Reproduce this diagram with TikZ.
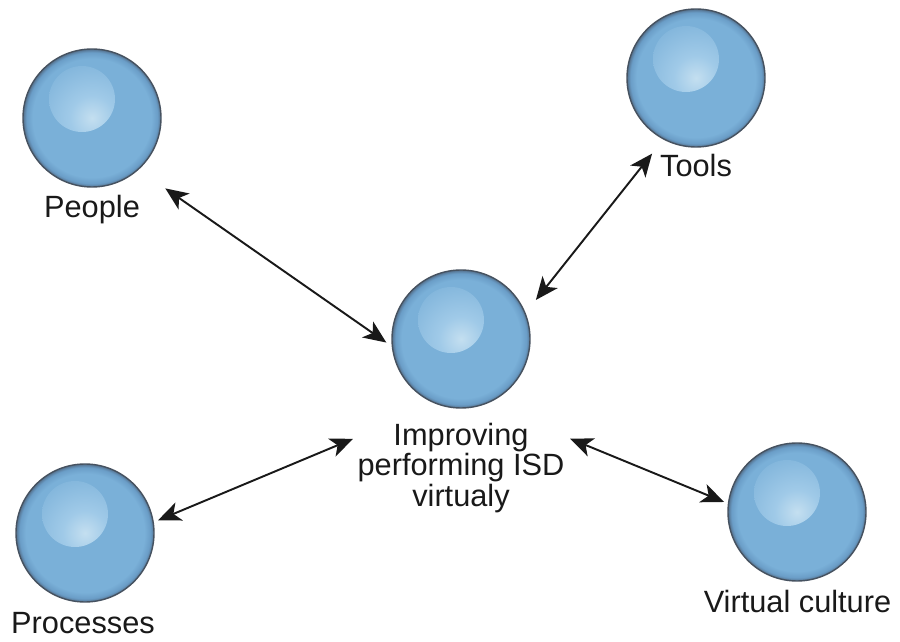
\documentclass[tikz,border=0pt]{standalone}
\usepackage{fontspec}
\setmainfont{Liberation Sans}
\usetikzlibrary{arrows.meta}

\definecolor{sphhi}{RGB}{196,223,240}
\definecolor{sphmid}{RGB}{160,202,232}
\definecolor{sphbody}{RGB}{122,176,216}
\definecolor{sphdark}{RGB}{106,157,199}
\definecolor{sphrim}{RGB}{84,112,140}
\definecolor{sphline}{RGB}{70,82,96}
\definecolor{txt}{RGB}{25,25,25}

\pgfdeclareradialshading{sphere}{\pgfpoint{0bp}{0bp}}{color(0bp)=(sphbody); color(21.5bp)=(sphbody); color(23.8bp)=(sphdark); color(25bp)=(sphrim); color(50bp)=(sphrim)}
\pgfdeclareradialshading{glare}{\pgfpoint{0bp}{0bp}}{color(0bp)=(sphhi); color(8bp)=(sphmid); color(24bp)=(sphbody); color(50bp)=(sphbody)}

\begin{document}
\begin{tikzpicture}[>={Stealth[length=13pt,width=11pt,inset=3.5pt]},
		ball/.style={circle, draw=sphline, line width=0.8pt, shading=sphere, minimum size=2.76cm, inner sep=0pt,
			path picture={\shade[shading=glare] ([shift={(-0.2,0.38)}]path picture bounding box.center) circle (0.66);}},
		lbl/.style={text=txt, font=\fontsize{17.5}{17.6}\selectfont, inner sep=0pt},
		link/.style={<->, line width=1.1pt, draw=txt}]
		\useasboundingbox (0,0) rectangle (18,12.84);

		\node (people) at (1.84,10.48) 	[ball] {};
		\node (tools) at (13.92,11.28) 	[ball] {};
		\node (hub) at (9.22,6.06) 		[ball] {};
		\node (proc) at (1.70,2.18) 		[ball] {};
		\node (virt) at (15.94,2.60) 		[ball] {};

		\node (peoplelbl) at (1.84,8.48) 	[lbl, anchor=base] {People};
		\node (toolslbl) at (13.92,9.30) 	[lbl, anchor=base] {Tools};
		\node (hublbl) at (9.22,3.48) 		[lbl, align=center] {Improving\\performing ISD\\virtualy};
		\node (proclbl) at (1.66,0.16) 		[lbl, anchor=base] {Processes};
		\node (virtlbl) at (15.95,0.58) 	[lbl, anchor=base] {Virtual culture};

		\draw [link, shorten <=0.65cm, shorten >=0.13cm] (people.-48) -- (hub.186);
		\draw [link, shorten <=0.36cm, shorten >=0.33cm] (tools.-118) -- (hub.22);
		\draw [link, shorten <=0.09cm, shorten >=1.80cm] (proc.9) -- (hub.-111);
		\draw [link, shorten <=1.82cm, shorten >=0.08cm] (hub.-69) -- (virt.173);
	\end{tikzpicture}
\end{document}
